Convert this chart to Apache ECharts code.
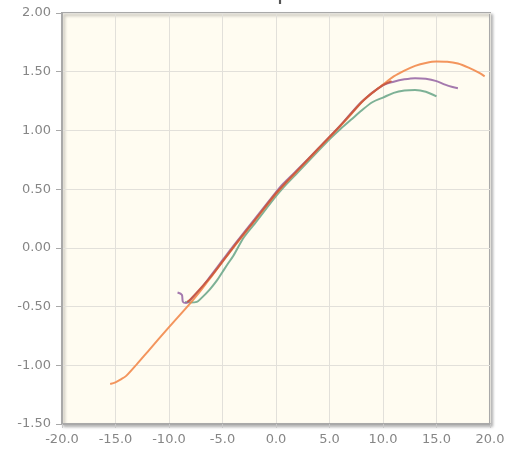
<!DOCTYPE html>
<html><head><meta charset="utf-8">
<script src="https://cdn.jsdelivr.net/npm/echarts@6/dist/echarts.min.js"></script>
<style>html,body{margin:0;padding:0;background:#fff}#c{width:512px;height:457px}</style>
</head><body><div id="c"></div>
<script>
var titleText = "Cl vs alpha";
var xTicks = [-20, -15, -10, -5, 0, 5, 10, 15, 20];
var yTicks = [-1.5, -1.0, -0.5, 0.0, 0.5, 1.0, 1.5, 2.0];

var orangeAlpha = [-15.5, -15.0, -14.5, -14.0, -13.0, -12.0, -10.0, -8.0, -7.0, -6.0, -5.0, -4.0, -3.0, -2.0, -1.0, 0.0, 0.5, 1.0, 2.0, 3.0, 4.0, 5.0, 6.0, 7.0, 8.0, 9.0, 10.0, 11.0, 12.0, 13.0, 14.0, 15.0, 16.0, 17.0, 18.0, 19.0, 19.5];
var orangeCl    = [-1.16, -1.145, -1.12, -1.09, -0.99, -0.885, -0.675, -0.47, -0.36, -0.24, -0.12, 0.0, 0.115, 0.23, 0.345, 0.46, 0.51, 0.56, 0.655, 0.75, 0.845, 0.94, 1.035, 1.135, 1.24, 1.32, 1.39, 1.46, 1.51, 1.55, 1.575, 1.587, 1.585, 1.57, 1.535, 1.49, 1.46];

var purpleAlpha = [-9.2, -8.8, -8.7, -8.4, -8.1, -7.0, -6.0, -5.0, -4.0, -2.0, 0.0, 0.5, 1.0, 2.0, 4.0, 6.0, 8.0, 10.0, 11.0, 12.0, 13.0, 14.0, 15.0, 15.8, 16.5, 17.0];
var purpleCl    = [-0.38, -0.40, -0.46, -0.47, -0.45, -0.345, -0.225, -0.105, 0.015, 0.245, 0.475, 0.53, 0.575, 0.665, 0.85, 1.04, 1.245, 1.385, 1.415, 1.435, 1.445, 1.44, 1.42, 1.39, 1.37, 1.36];

var greenAlpha = [-8.5, -8.0, -7.4, -7.0, -6.2, -5.5, -5.0, -4.5, -4.0, -3.0, -2.0, 0.0, 1.0, 2.0, 4.0, 5.0, 6.0, 7.0, 8.0, 9.0, 10.0, 11.0, 12.0, 13.0, 14.0, 15.0];
var greenCl    = [-0.46, -0.465, -0.46, -0.43, -0.355, -0.275, -0.205, -0.135, -0.07, 0.09, 0.205, 0.44, 0.545, 0.64, 0.83, 0.925, 1.01, 1.09, 1.17, 1.24, 1.28, 1.32, 1.34, 1.345, 1.33, 1.29];

var redAlpha = [-8.3, -8.0, -6.0, -4.0, -2.0, 0.0, 1.0, 2.0, 4.0, 6.0, 8.0, 9.0, 10.0, 10.8];
var redCl    = [-0.46, -0.44, -0.235, 0.005, 0.235, 0.465, 0.565, 0.66, 0.85, 1.04, 1.24, 1.32, 1.385, 1.42];

function pairs(xs, ys) { return xs.map(function (x, i) { return [x, ys[i]]; }); }

var chart = echarts.init(document.getElementById('c'), null, {renderer: 'canvas'});
var labelStyle = {color: '#868686', fontSize: 13, fontFamily: 'DejaVu Sans'};
function line(name, data, color) {
  return {name: name, type: 'line', data: data, showSymbol: false, smooth: 0.3,
    lineStyle: {color: color, width: 2, opacity: 0.9}, itemStyle: {color: color}};
}
chart.setOption({
  animation: false,
  backgroundColor: '#ffffff',
  title: {text: titleText, left: 185, top: -24,
    textStyle: {color: '#555', fontSize: 24, fontFamily: 'DejaVu Sans', fontWeight: 'normal'}},
  grid: {left: 62, right: 22, top: 13, bottom: 33, show: true,
    backgroundColor: '#fffcf1', borderColor: '#a9a9a9', borderWidth: 2,
    shadowColor: 'rgba(0,0,0,0.25)', shadowBlur: 3, shadowOffsetX: 2, shadowOffsetY: 2},
  xAxis: {type: 'value', min: xTicks[0], max: xTicks[xTicks.length - 1], interval: 5,
    axisLine: {show: true, onZero: false, lineStyle: {color: '#a9a9a9', width: 2}},
    axisTick: {show: true, length: 4, lineStyle: {color: '#c8c8c8'}},
    axisLabel: Object.assign({margin: 9, formatter: function (v) { return v.toFixed(1); }}, labelStyle),
    splitLine: {show: true, lineStyle: {color: '#e2e0da', width: 1}}},
  yAxis: {type: 'value', min: yTicks[0], max: yTicks[yTicks.length - 1], interval: 0.5,
    axisLine: {show: true, onZero: false, lineStyle: {color: '#a9a9a9', width: 2}},
    axisTick: {show: true, length: 6, lineStyle: {color: '#a9a9a9'}},
    axisLabel: Object.assign({margin: 11, formatter: function (v) { return v.toFixed(2); }}, labelStyle),
    splitLine: {show: true, lineStyle: {color: '#e2e0da', width: 1}}},
  series: [
    line('green', pairs(greenAlpha, greenCl), '#6fa98c'),
    line('purple', pairs(purpleAlpha, purpleCl), '#9a6aa6'),
    line('orange', pairs(orangeAlpha, orangeCl), '#f28a4c'),
    line('red', pairs(redAlpha, redCl), '#c9573f')
  ]
});
</script></body></html>
